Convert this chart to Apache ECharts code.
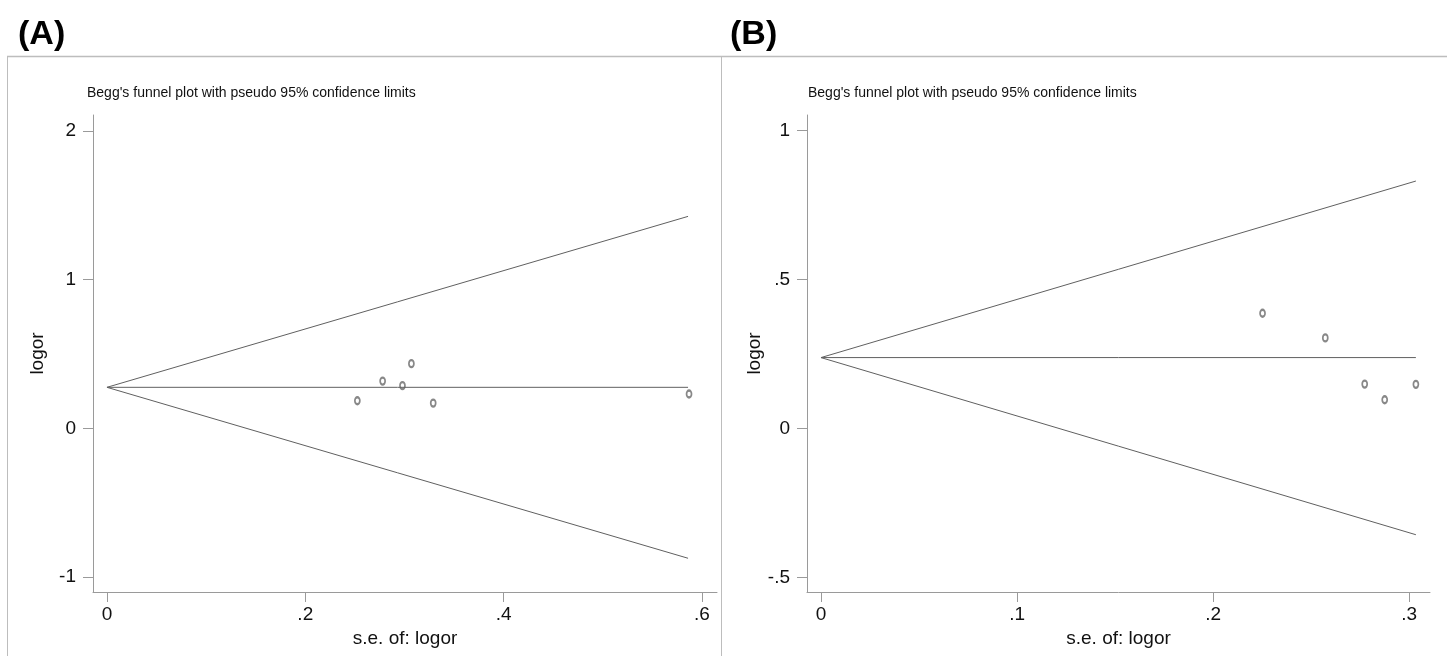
<!DOCTYPE html>
<html>
<head>
<meta charset="utf-8">
<script src="https://cdn.jsdelivr.net/npm/echarts@6/dist/echarts.min.js"></script>
<style>
    html, body { margin: 0; padding: 0; background: #fff; }
    #chart { width: 1453px; height: 656px; }
</style>
</head>
<body>
<div id="chart"></div>
<script>
// panel A: study points (s.e., logor)
var seA = [0.2525, 0.278, 0.298, 0.307, 0.329, 0.587];
var logorA = [0.186, 0.318, 0.287, 0.435, 0.170, 0.231];
// panel A: pseudo 95% limits, from se = 0 to se max
var limSeA = [0, 0.586];
var upperA = [0.276, 1.426];
var lowerA = [0.276, -0.874];
var centerA = [0.276, 0.276];
var xTicksA = [0, 0.2, 0.4, 0.6];
var yTicksA = [-1, 0, 1, 2];

// panel B
var seB = [0.2252, 0.2572, 0.2773, 0.2875, 0.3034];
var logorB = [0.387, 0.304, 0.149, 0.0965, 0.148];
var limSeB = [0, 0.3034];
var upperB = [0.238, 0.831];
var lowerB = [0.238, -0.357];
var centerB = [0.238, 0.238];
var xTicksB = [0, 0.1, 0.2, 0.3];
var yTicksB = [-0.5, 0, 0.5, 1];

var titleText = "Begg's funnel plot with pseudo 95% confidence limits";
var sans = '"Liberation Sans", Arial, sans-serif';
var axisGray = '#9a9a9a';
var lineGray = '#606060';

var pairs = function (xs, ys) {
    var out = [];
    for (var i = 0; i < xs.length; i++) {
        out.push([xs[i], ys[i]]);
    }
    return out;
};

var stataNum = function (v) {
    if (v === 0) return '0';
    return String(v).replace('0.', '.');
};

var makeX = function (idx, min, max, ticks) {
    return {
        type: 'value', gridIndex: idx, min: min, max: max,
        name: 's.e. of: logor', nameLocation: 'middle', nameGap: 31,
        nameTextStyle: { fontFamily: sans, fontSize: 19, color: '#111' },
        axisLine: { onZero: false, lineStyle: { color: axisGray, width: 1 } },
        axisTick: { customValues: ticks, length: 10, lineStyle: { color: axisGray } },
        axisLabel: { customValues: ticks, formatter: stataNum, fontFamily: sans, fontSize: 19, color: '#111', margin: 13 },
        splitLine: { show: false }
    };
};

var makeY = function (idx, min, max, ticks, gap) {
    return {
        type: 'value', gridIndex: idx, min: min, max: max,
        name: 'logor', nameLocation: 'middle', nameGap: gap,
        nameTextStyle: { fontFamily: sans, fontSize: 19, color: '#111' },
        axisLine: { show: true, onZero: false, lineStyle: { color: axisGray, width: 1 } },
        axisTick: { show: true, customValues: ticks, length: 10, lineStyle: { color: axisGray } },
        axisLabel: { customValues: ticks, formatter: stataNum, fontFamily: sans, fontSize: 19, color: '#111', margin: 17 },
        splitLine: { show: false }
    };
};

var limitLine = function (idx, xs, ys) {
    return {
        type: 'line', xAxisIndex: idx, yAxisIndex: idx,
        data: pairs(xs, ys), showSymbol: false, silent: true,
        lineStyle: { color: lineGray, width: 1 }
    };
};

var studyPoints = function (idx, xs, ys) {
    return {
        type: 'scatter', xAxisIndex: idx, yAxisIndex: idx,
        data: pairs(xs, ys), symbol: 'emptyCircle', symbolSize: [5, 7],
        itemStyle: { color: '#6a6a6a', borderWidth: 1 }
    };
};

option = {
    backgroundColor: '#fff',
    animation: false,
    title: [
        { text: '(A)', left: 13, top: 13, textStyle: { fontFamily: sans, fontSize: 34, fontWeight: 'bold', color: '#000' } },
        { text: '(B)', left: 725, top: 13, textStyle: { fontFamily: sans, fontSize: 34, fontWeight: 'bold', color: '#000' } },
        { text: titleText, left: 82, top: 81, textStyle: { fontFamily: sans, fontSize: 14, fontWeight: 'normal', color: '#111' } },
        { text: titleText, left: 803, top: 81, textStyle: { fontFamily: sans, fontSize: 14, fontWeight: 'normal', color: '#111' } }
    ],
    graphic: [
        { type: 'line', shape: { x1: 7, y1: 56.5, x2: 1447, y2: 56.5 }, style: { stroke: '#bdbdbd', lineWidth: 1.5 } },
        { type: 'line', shape: { x1: 7.5, y1: 56, x2: 7.5, y2: 656 }, style: { stroke: '#bdbdbd', lineWidth: 1 } },
        { type: 'line', shape: { x1: 721.5, y1: 56, x2: 721.5, y2: 656 }, style: { stroke: '#bdbdbd', lineWidth: 1 } }
    ],
    grid: [
        { left: 93, top: 115, width: 624, height: 477 },
        { left: 807, top: 115, width: 623, height: 477 }
    ],
    xAxis: [
        makeX(0, -0.0141, 0.6152, xTicksA),
        makeX(1, -0.00714, 0.3106, xTicksB)
    ],
    yAxis: [
        makeY(0, -1.101, 2.108, yTicksA, 46),
        makeY(1, -0.5494, 1.0528, yTicksB, 42)
    ],
    series: [
        limitLine(0, limSeA, upperA),
        limitLine(0, limSeA, lowerA),
        limitLine(0, limSeA, centerA),
        studyPoints(0, seA, logorA),
        limitLine(1, limSeB, upperB),
        limitLine(1, limSeB, lowerB),
        limitLine(1, limSeB, centerB),
        studyPoints(1, seB, logorB)
    ]
};

var funnelChart = echarts.init(document.getElementById('chart'));
funnelChart.setOption(option);
</script>
</body>
</html>
